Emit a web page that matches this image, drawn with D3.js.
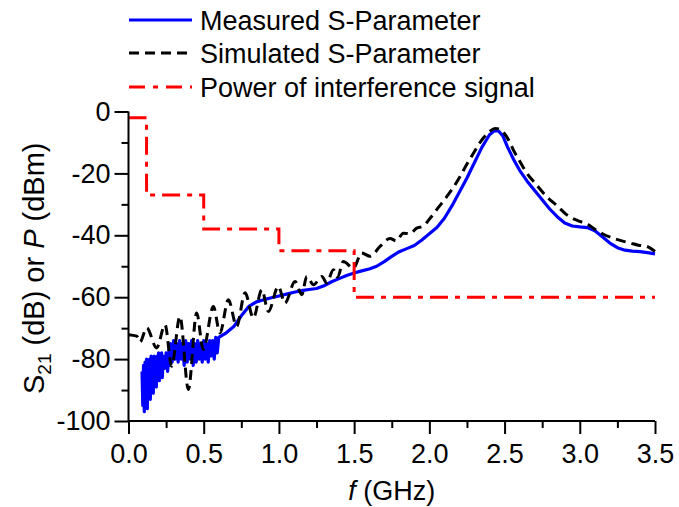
<!DOCTYPE html>
<html>
<head>
<meta charset="utf-8">
<script src="https://cdn.jsdelivr.net/npm/d3@7/dist/d3.min.js"></script>
<style>
  html, body { margin: 0; padding: 0; background: #fff; }
  svg { display: block; font-family: "Liberation Sans", Arial, sans-serif; }
</style>
</head>
<body>
<svg id="chart" width="679" height="507"></svg>
<script>
// ---- Data ----
const xTicks = [0, 0.5, 1.0, 1.5, 2.0, 2.5, 3.0, 3.5];
const yTicks = [-100, -80, -60, -40, -20, 0];

// Measured S-Parameter (f in GHz, S21 in dB)
const measuredF = [
  0.090,0.095,0.100,0.105,0.110,0.115,0.120,0.125,0.130,0.135,0.140,0.145,0.150,0.155,0.160,0.165,0.170,0.175,0.180,0.185,
  0.190,0.195,0.200,0.205,0.210,0.215,0.220,0.225,0.230,0.240,0.250,0.260,0.270,0.275,0.280,0.290,0.300,0.310,0.320,0.330,
  0.340,0.350,0.360,0.370,0.380,0.390,0.400,0.410,0.420,0.430,0.440,0.450,0.460,0.470,0.480,0.490,0.500,0.510,0.520,0.530,
  0.540,0.550,0.560,0.570,0.580,0.590,0.600,
  0.65,0.70,0.75,0.80,0.85,0.90,0.95,1.00,1.05,1.10,1.15,1.20,1.25,1.30,1.35,1.40,1.45,1.50,1.55,1.60,1.65,1.70,1.75,1.80,
  1.85,1.90,1.95,2.00,2.05,2.10,2.15,2.20,2.25,2.30,2.35,2.40,2.43,2.46,2.49,2.52,2.56,2.60,2.65,2.70,2.75,2.80,2.85,2.90,
  2.95,3.00,3.05,3.10,3.15,3.20,3.25,3.30,3.35,3.40,3.45,3.50
];
const measuredS = [
  -84,-95,-82,-97,-81,-93,-80,-96,-81,-90,-80,-93,-79,-88,-80,-91,-79,-86,-80,-89,
  -79,-85,-78,-87,-79,-84,-78,-86,-79,-83,-78,-84,-77,-82,-75,-81,-74,-80,-75,-81,
  -74,-80,-75,-82,-74,-81,-75,-80,-74,-82,-75,-81,-74,-80,-75,-81,-74,-80,-75,-81,
  -74,-79,-74,-80,-73,-78,-73,
  -71.5,-69.5,-66,-63,-61.5,-60.8,-60.2,-59.6,-59,-58.4,-57.9,-57.5,-57.2,-56.3,-55,-54,-53,-52.2,-51.5,-50.9,-50,-48.5,-46.8,-45.3,
  -44.3,-43.3,-41.5,-39.5,-37.5,-34.5,-30.5,-26,-21.5,-16.5,-11.5,-7.5,-6.3,-6.3,-8,-11.5,-15.5,-19,-22.5,-25.5,-28.5,-31.5,-34,-36,
  -37,-37.3,-37.5,-38.5,-40.5,-42.5,-44,-44.8,-45.1,-45.3,-45.6,-46
];

// Simulated S-Parameter
const simulatedF = [
  0.000,0.055,0.076,0.121,0.187,0.243,0.287,0.342,0.398,0.453,0.497,0.564,0.608,0.664,0.719,0.775,0.830,0.886,0.930,0.996,
  1.040,1.107,1.152,1.185,1.230,1.285,1.318,1.362,1.390,1.428,1.495,1.550,1.606,1.672,1.739,1.780,1.827,1.870,1.916,1.960,
  2.005,2.060,2.116,2.160,2.204,2.250,2.293,2.330,2.360,2.400,2.437,2.470,2.500,2.530,2.558,2.600,2.648,2.700,2.780,2.850,
  2.914,3.000,3.050,3.090,3.150,3.220,3.280,3.335,3.390,3.445,3.500
];
const simulatedS = [
  -72.1,-72.6,-74.5,-69.9,-76.4,-68.9,-82.3,-66.2,-89.8,-65.1,-76.9,-63.0,-71.5,-60.8,-69.4,-58.6,-66.7,-57.6,-64.6,-56.5,
  -61.9,-54.9,-59.2,-53.3,-56.0,-53.3,-55.4,-51.1,-53.5,-48.5,-50.6,-45.7,-46.8,-43.6,-41.0,-41.8,-39.3,-39.5,-37.7,-37.0,
  -34.5,-31.0,-27.5,-24.5,-21.0,-17.0,-13.5,-10.5,-8.5,-6.5,-5.5,-5.7,-7.2,-9.5,-12.4,-16.0,-19.9,-23.0,-27.5,-30.5,
  -33.4,-35.5,-36.3,-37.7,-39.5,-40.9,-41.8,-42.5,-43.2,-43.6,-45.2
];

// Power of interference signal (step levels, dBm)
const powerF = [0, 0.12, 0.5, 1.0, 1.5, 3.5];
const powerP = [-2, -27, -38, -45, -60, -60];

const legendLabels = ["Measured S-Parameter", "Simulated S-Parameter", "Power of interference signal"];

// ---- Chart ----
const svg = d3.select("#chart");
const x = d3.scaleLinear().domain([0, 3.5]).range([128.5, 655]);
const y = d3.scaleLinear().domain([-100, 0]).range([421, 111.5]);
const FONT = 27;

const zip = (a, b) => a.map((v, i) => [v, b[i]]);

// Measured (blue)
svg.append("path")
  .datum(zip(measuredF, measuredS))
  .attr("d", d3.line().x(d => x(d[0])).y(d => y(d[1])).curve(d3.curveLinear))
  .attr("fill", "none").attr("stroke", "#0000ff").attr("stroke-width", 3.2)
  .attr("stroke-linejoin", "round");

// Simulated (black dashed)
svg.append("path")
  .datum(zip(simulatedF, simulatedS))
  .attr("d", d3.line().x(d => x(d[0])).y(d => y(d[1])).curve(d3.curveMonotoneX))
  .attr("fill", "none").attr("stroke", "#000").attr("stroke-width", 3)
  .attr("stroke-dasharray", "10,6");

// Power (red dash-dot step)
svg.append("path")
  .datum(zip(powerF, powerP))
  .attr("d", d3.line().x(d => x(d[0])).y(d => y(d[1])).curve(d3.curveStepAfter))
  .attr("fill", "none").attr("stroke", "#ff0000").attr("stroke-width", 3)
  .attr("stroke-dasharray", "18,7,5,7");

// Axes
const xAxis = d3.axisBottom(x).tickValues(xTicks).tickFormat(d3.format(".1f"))
  .tickSize(13).tickPadding(10);
const gx = svg.append("g").attr("transform", `translate(0,${y(-100)})`).call(xAxis);
const xMinor = d3.axisBottom(x).tickValues(xTicks.slice(0, -1).map(v => v + 0.25))
  .tickSize(7).tickFormat("");
svg.append("g").attr("transform", `translate(0,${y(-100)})`).call(xMinor).select(".domain").remove();

const yAxis = d3.axisLeft(y).tickValues(yTicks).tickFormat(d => String(d))
  .tickSize(14).tickPadding(4);
const gy = svg.append("g").attr("transform", `translate(${x(0)},0)`).call(yAxis);
const yMinor = d3.axisLeft(y).tickValues(yTicks.slice(0, -1).map(v => v + 10))
  .tickSize(7).tickFormat("");
svg.append("g").attr("transform", `translate(${x(0)},0)`).call(yMinor).select(".domain").remove();

svg.selectAll(".domain").attr("stroke", "#000").attr("stroke-width", 2);
svg.selectAll(".tick line").attr("stroke", "#000").attr("stroke-width", 2);
svg.selectAll(".tick text").attr("font-size", FONT).attr("fill", "#000")
  .attr("font-family", '"Liberation Sans", Arial, sans-serif');
gx.select(".domain").attr("d", `M${x(0)},0H${x(3.5)}`);
gy.select(".domain").attr("d", `M0,${y(-100)}V${y(0)}`);

// X axis title
const xt = svg.append("text")
  .attr("x", (x(0) + x(3.5)) / 2).attr("y", 500)
  .attr("text-anchor", "middle").attr("font-size", FONT);
xt.append("tspan").attr("font-style", "italic").text("f");
xt.append("tspan").text(" (GHz)");

// Y axis title
const yt = svg.append("text")
  .attr("transform", `translate(44,${(y(-100) + y(0)) / 2 + 2}) rotate(-90)`)
  .attr("text-anchor", "middle").attr("font-size", 29);
yt.append("tspan").text("S");
yt.append("tspan").attr("font-size", 19).attr("dy", 7).text("21");
yt.append("tspan").attr("dy", -7).text(" (dB) or ");
yt.append("tspan").attr("font-style", "italic").text("P");
yt.append("tspan").text(" (dBm)");

// Legend
const legendStyles = [
  { color: "#0000ff", dash: null },
  { color: "#000", dash: "10,6" },
  { color: "#ff0000", dash: "16,8,5,8" }
];
const legendY = [20, 53, 87];
legendLabels.forEach((lab, i) => {
  const g = svg.append("g");
  const ln = g.append("line")
    .attr("x1", 129).attr("x2", 192).attr("y1", legendY[i]).attr("y2", legendY[i])
    .attr("stroke", legendStyles[i].color).attr("stroke-width", 3);
  if (legendStyles[i].dash) ln.attr("stroke-dasharray", legendStyles[i].dash);
  g.append("text").attr("x", 200).attr("y", legendY[i]).attr("dy", "0.36em")
    .attr("font-size", FONT).attr("fill", "#000").text(lab);
});
</script>
</body>
</html>
